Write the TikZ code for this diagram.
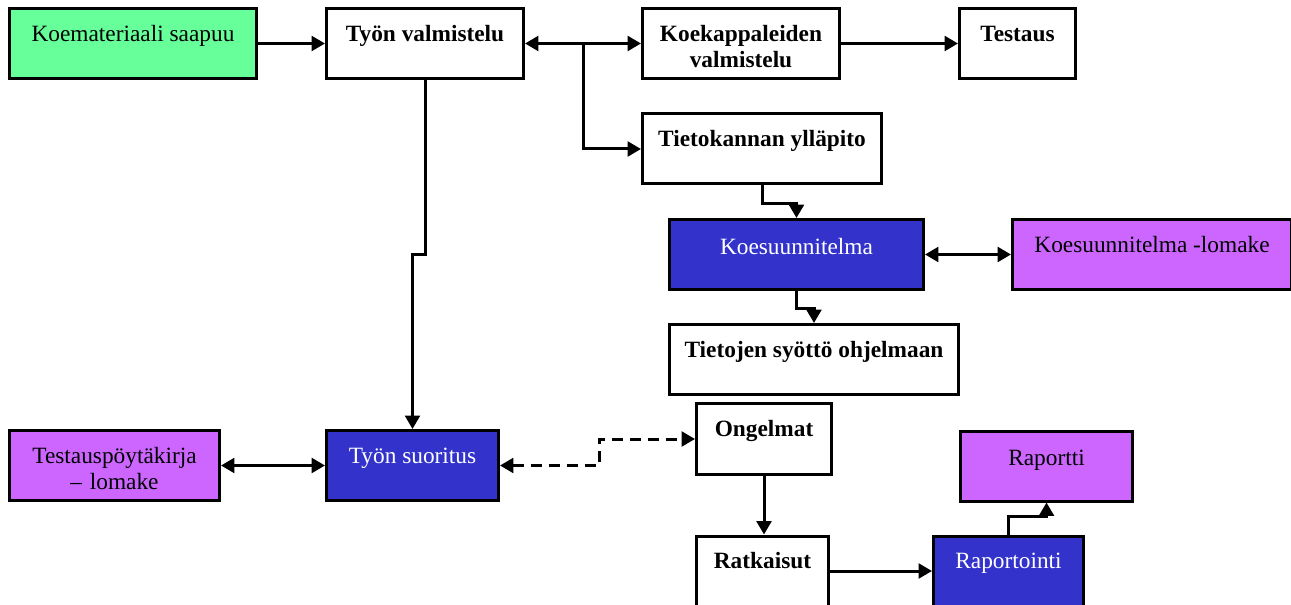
\documentclass[tikz,border=0pt]{standalone}
\usepackage{fontspec}
\setmainfont{Liberation Serif}
\usetikzlibrary{arrows.meta}
\definecolor{koegreen}{RGB}{102,255,153}
\definecolor{koeblue}{RGB}{51,51,204}
\definecolor{koeviolet}{RGB}{204,102,255}
\newlength\pxu
\setlength\pxu{0.75pt}

\begin{document}
\begin{tikzpicture}[x=0.75pt,y=-0.75pt,>={Triangle[length=10pt,width=11pt]},
        box/.style={draw,line width=2.25pt,fill=white,inner xsep=0pt,inner ysep=0pt,
            minimum height=70\pxu,text height=24.4pt,text depth=28.1pt,align=center,
            font=\fontsize{17.5}{19.5}\selectfont},
        work/.style={box,font=\fontsize{17.5}{19.5}\selectfont\bfseries},
        start/.style={box,fill=koegreen},
        task/.style={box,fill=koeblue,text=white},
        form/.style={box,fill=koeviolet},
        conn/.style={line width=2.25pt}]
            \useasboundingbox (0,0) rectangle (1291,605);
            \node[start,minimum width=247\pxu] (saapuu) at (133,43.5) {Koemateriaali saapuu};
            \node[work,minimum width=197\pxu] (valm) at (425,43.5) {Työn valmistelu};
            \node[work,minimum width=197\pxu,text width=190\pxu] (koek) at (741,43.5) {Koekappaleiden\\valmistelu};
            \node[work,minimum width=116\pxu] (testaus) at (1017.5,43.5) {Testaus};
            \node[work,minimum width=239\pxu] (tietok) at (762,149) {Tietokannan ylläpito};
            \node[task,minimum width=254\pxu,text height=26pt,text depth=26.5pt] (koes) at (796.5,254.5) {Koesuunnitelma};
            \node[form,minimum width=279\pxu] (lomake) at (1152,254.5) {Koesuunnitelma -lomake};
            \node[work,minimum width=289\pxu] (syotto) at (814,359.5) {Tietojen syöttö ohjelmaan};
            \node[form,minimum width=210\pxu,text width=200\pxu] (pk) at (114.5,465.5) {Testauspöytäkirja\\– lomake};
            \node[task,minimum width=172\pxu] (suor) at (412.5,465.5) {Työn suoritus};
            \node[work,minimum width=135\pxu] (ong) at (764,439) {Ongelmat};
            \node[form,minimum width=172\pxu,text height=26pt,text depth=26.5pt] (rapt) at (1046.5,466) {Raportti};
            \node[work,minimum width=132\pxu] (ratk) at (762.5,571) {Ratkaisut};
            \node[task,minimum width=150\pxu] (rapo) at (1008.5,571) {Raportointi};
            \coordinate (haara) at (583,43.5);
            \draw[conn,->] (saapuu) -- (valm);
            \draw[conn,<->] (valm) -- (koek);
            \draw[conn,->] (haara) |- (tietok);
            \draw[conn,->] (koek) -- (testaus);
            \draw[conn,->] (tietok.south) -- ++(0,18) -| (koes);
            \draw[conn,<->] (koes) -- (lomake);
            \draw[conn,->] (koes.south) -- ++(0,18) -| (syotto);
            \draw[conn,->] (valm.south) -- ++(0,175) -| (suor);
            \draw[conn,<->] (pk) -- (suor);
            \draw[conn,dash pattern=on 8.5pt off 5pt,<->] (suor.east) -- ++(99,0) |- (ong);
            \draw[conn,->] (ong.south) -- (ong.south |- ratk.north);
            \draw[conn,->] (ratk) -- (rapo);
            \draw[conn,->] (rapo.north) -- ++(0,-18) -| (rapt);
        \end{tikzpicture}
\end{document}
